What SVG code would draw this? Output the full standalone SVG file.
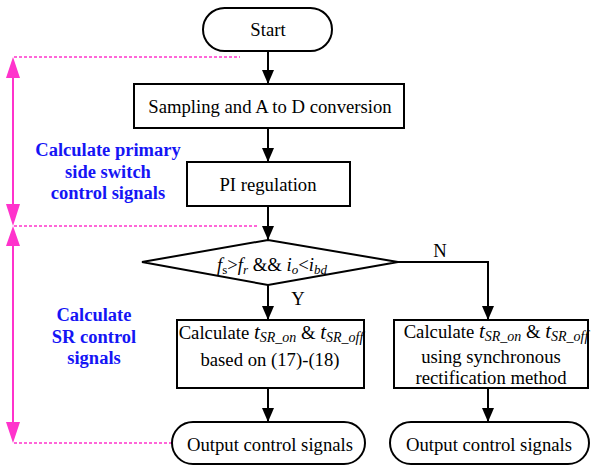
<svg xmlns="http://www.w3.org/2000/svg" width="594" height="466" viewBox="0 0 594 466">
<defs>
<marker id="ah" viewBox="0 0 14 12" refX="14" refY="6" markerWidth="14" markerHeight="12" markerUnits="userSpaceOnUse" orient="auto">
<path d="M0,0 L14,6 L0,12 Z" fill="#000"/>
</marker>
</defs>
<style>
.box{fill:#fff;stroke:#000;stroke-width:2}
.t{font-size:18.7px;fill:#000;text-anchor:middle}
.i{font-style:italic}
.b{font-size:18.5px;font-weight:bold;fill:#1515f5;text-anchor:middle}
.c{stroke:#000;stroke-width:2;fill:none}
.m{stroke:#ff33cc;stroke-width:2;fill:none}
.md{stroke:#ff33cc;stroke-width:1.5;fill:none;stroke-dasharray:3,2}
.mh{fill:#ff33cc}
</style>
<g id="annotations">
<line class="md" x1="14" y1="57" x2="240" y2="57"/>
<line class="md" x1="14" y1="226" x2="258" y2="226"/>
<line class="md" x1="14" y1="443" x2="172" y2="443"/>
<line class="m" x1="13" y1="70" x2="13" y2="212"/>
<path class="mh" d="M13,57 L6,78 L20,78 Z"/>
<path class="mh" d="M13,226 L6,204 L20,204 Z"/>
<line class="m" x1="13" y1="238" x2="13" y2="430"/>
<path class="mh" d="M13,226 L6,246 L20,246 Z"/>
<path class="mh" d="M13,443 L6,422 L20,422 Z"/>
<text class="b" style="font-family:'Liberation Serif',serif" x="108" y="156">Calculate primary</text>
<text class="b" style="font-family:'Liberation Serif',serif" x="108" y="178">side switch</text>
<text class="b" style="font-family:'Liberation Serif',serif" x="108" y="199">control signals</text>
<text class="b" style="font-family:'Liberation Serif',serif" x="94" y="321">Calculate</text>
<text class="b" style="font-family:'Liberation Serif',serif" x="94" y="343">SR control</text>
<text class="b" style="font-family:'Liberation Serif',serif" x="94" y="364">signals</text>
</g>
<g id="connectors">
<line class="c" x1="268" y1="51" x2="268" y2="84" marker-end="url(#ah)"/>
<line class="c" x1="268" y1="128" x2="268" y2="162" marker-end="url(#ah)"/>
<line class="c" x1="268" y1="206" x2="268" y2="240" marker-end="url(#ah)"/>
<line class="c" x1="268" y1="285" x2="268" y2="320" marker-end="url(#ah)"/>
<polyline class="c" points="398,262 488,262 488,320" marker-end="url(#ah)"/>
<line class="c" x1="268" y1="388" x2="268" y2="422" marker-end="url(#ah)"/>
<line class="c" x1="488" y1="388" x2="488" y2="422" marker-end="url(#ah)"/>
<text class="t" style="font-family:'Liberation Serif',serif" x="440" y="257">N</text>
<text class="t" style="font-family:'Liberation Serif',serif" x="298" y="305">Y</text>
</g>
<g id="start">
<rect class="box" x="203" y="8" width="129" height="43" rx="21.5"/>
<text class="t" style="font-family:'Liberation Serif',serif" x="268" y="36">Start</text>
</g>
<g id="sampling">
<rect class="box" x="134" y="84" width="270" height="44"/>
<text class="t" style="font-family:'Liberation Serif',serif" x="270" y="113">Sampling and A to D conversion</text>
</g>
<g id="pi">
<rect class="box" x="187" y="162" width="163" height="44"/>
<text class="t" style="font-family:'Liberation Serif',serif" x="268" y="191">PI regulation</text>
</g>
<g id="decision">
<polygon class="box" points="142,262 268,240 398,262 268,285"/>
<text class="t" style="font-family:'Liberation Serif',serif" x="272" y="271"><tspan class="i">f</tspan><tspan font-size="13" dy="3">s</tspan><tspan dy="-3">&gt;</tspan><tspan class="i">f</tspan><tspan font-size="13" dy="3" class="i">r</tspan><tspan dy="-3"> &amp;&amp; </tspan><tspan class="i">i</tspan><tspan font-size="13" dy="3" class="i">o</tspan><tspan dy="-3">&lt;</tspan><tspan class="i">i</tspan><tspan font-size="13" dy="3" class="i">bd</tspan></text>
</g>
<g id="calc-left">
<rect class="box" x="177" y="320" width="187" height="68"/>
<text class="t" style="font-family:'Liberation Serif',serif" x="271" y="339">Calculate <tspan class="i" font-size="21">t</tspan><tspan class="i" font-size="14" dy="3">SR_on</tspan><tspan dy="-3"> &amp; </tspan><tspan class="i" font-size="21">t</tspan><tspan class="i" font-size="14" dy="3">SR_off</tspan></text>
<text class="t" style="font-family:'Liberation Serif',serif" x="270" y="366">based on (17)-(18)</text>
</g>
<g id="calc-right">
<rect class="box" x="394" y="320" width="194" height="68"/>
<text class="t" style="font-family:'Liberation Serif',serif" x="496" y="338">Calculate <tspan class="i" font-size="21">t</tspan><tspan class="i" font-size="14" dy="3">SR_on</tspan><tspan dy="-3"> &amp; </tspan><tspan class="i" font-size="21">t</tspan><tspan class="i" font-size="14" dy="3">SR_off</tspan></text>
<text class="t" style="font-family:'Liberation Serif',serif" x="491" y="363">using synchronous</text>
<text class="t" style="font-family:'Liberation Serif',serif" x="491" y="384">rectification method</text>
</g>
<g id="out-left">
<rect class="box" x="172" y="422" width="193" height="42" rx="21"/>
<text class="t" style="font-family:'Liberation Serif',serif" x="270" y="451">Output control signals</text>
</g>
<g id="out-right">
<rect class="box" x="390" y="422" width="199" height="42" rx="21"/>
<text class="t" style="font-family:'Liberation Serif',serif" x="489" y="451">Output control signals</text>
</g>
</svg>
